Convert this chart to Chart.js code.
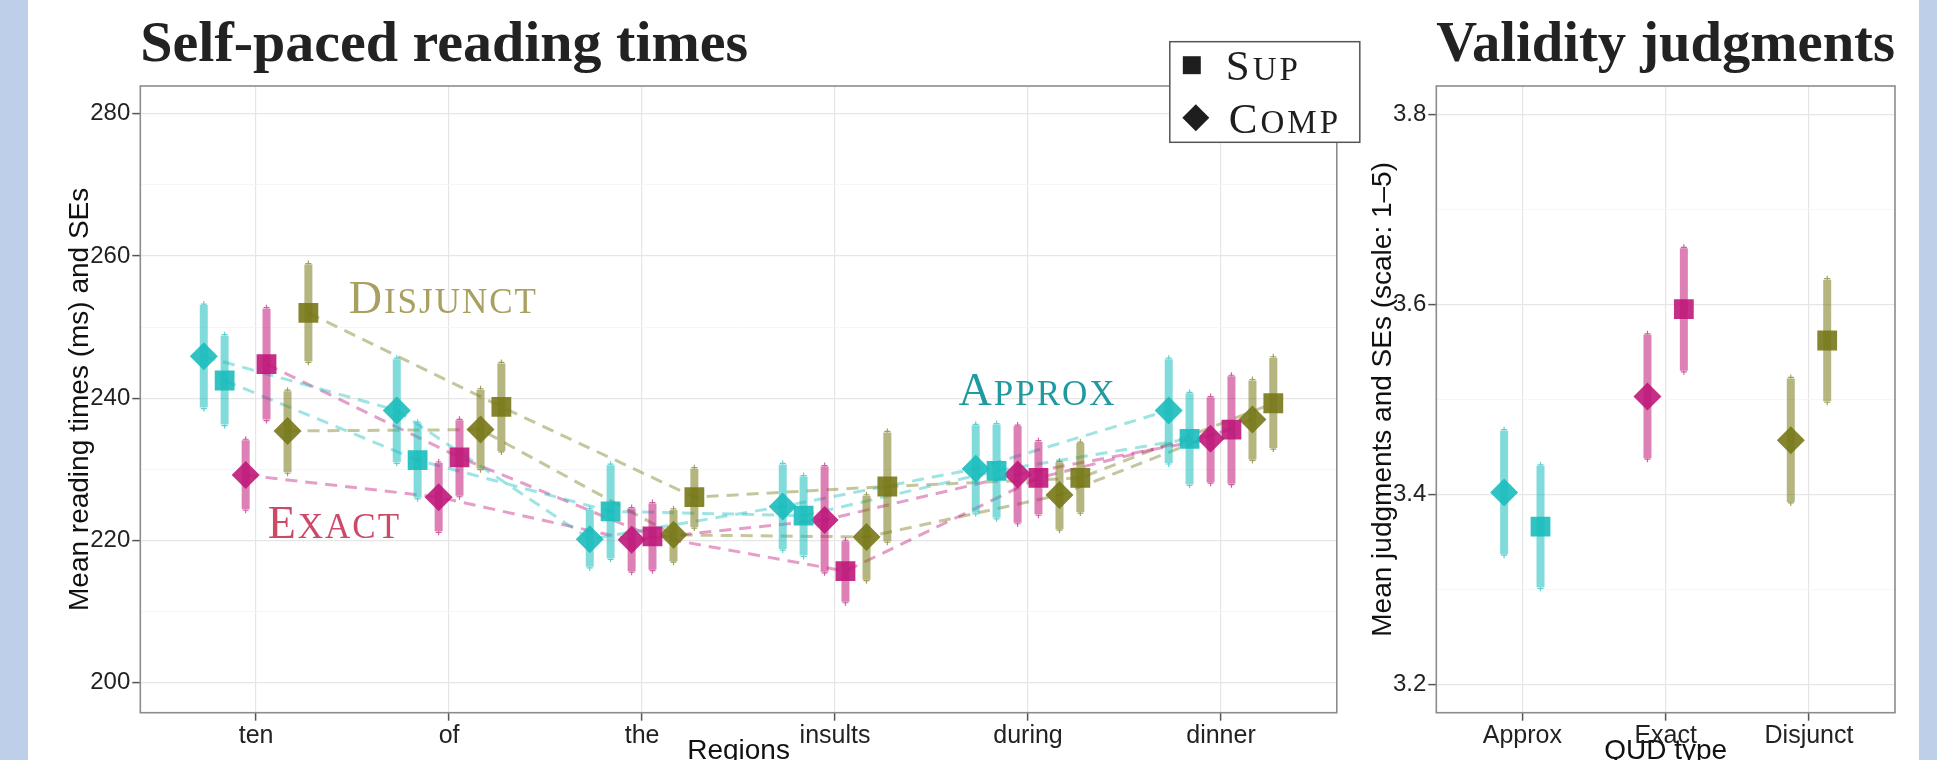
<!DOCTYPE html>
<html>
<head>
<meta charset="utf-8">
<script src="https://cdn.jsdelivr.net/npm/chart.js@4.4.1/dist/chart.umd.min.js"></script>
<style>
  html, body { margin: 0; padding: 0; }
  body { width: 1937px; height: 760px; overflow: hidden; position: relative; background: #fff; }
  .band { position: absolute; top: 0; height: 760px; background: #bdcfe9; }
  #readingChart { position: absolute; left: 28px; top: 0; }
  #judgChart { position: absolute; left: 1360px; top: 0; }
</style>
</head>
<body>
<div class="band" style="left:0;width:28px"></div>
<div class="band" style="left:1919px;width:18px"></div>
<canvas id="readingChart" width="1345" height="800"></canvas>
<canvas id="judgChart" width="559" height="800"></canvas>
<script>
/*** Categories */
var regions = ['ten', 'of', 'the', 'insults', 'during', 'dinner'];
var qudTypes = ['Approx', 'Exact', 'Disjunct'];

/*** Reading times (ms): means and SE ranges per region */
var approxComp   = [245.9, 238.3, 220.2, 224.8, 230.1, 238.3];
var approxCompLo = [238.7, 231.0, 216.3, 218.8, 223.9, 230.9];
var approxCompHi = [253.1, 245.5, 224.3, 230.7, 236.2, 245.5];
var approxSup    = [242.5, 231.3, 224.1, 223.5, 229.8, 234.3];
var approxSupLo  = [236.3, 226.0, 217.5, 217.9, 223.2, 227.9];
var approxSupHi  = [248.8, 236.5, 230.6, 229.0, 236.3, 240.7];
var exactComp    = [229.2, 226.1, 220.1, 222.9, 229.3, 234.3];
var exactCompLo  = [224.4, 221.3, 215.7, 215.6, 222.5, 228.2];
var exactCompHi  = [234.1, 230.9, 224.5, 230.4, 236.1, 240.1];
var exactSup     = [244.8, 231.7, 220.6, 215.7, 228.8, 235.6];
var exactSupLo   = [237.0, 226.3, 215.9, 211.4, 223.7, 228.0];
var exactSupHi   = [252.6, 236.9, 225.2, 219.9, 233.9, 243.1];
var disjComp     = [235.4, 235.6, 220.8, 220.5, 226.4, 237.0];
var disjCompLo   = [229.6, 230.1, 217.1, 214.5, 221.6, 231.4];
var disjCompHi   = [241.0, 241.2, 224.3, 226.3, 231.0, 242.5];
var disjSup      = [252.0, 238.8, 226.1, 227.6, 228.8, 239.3];
var disjSupLo    = [245.2, 232.6, 221.9, 219.9, 224.0, 233.0];
var disjSupHi    = [258.8, 244.9, 230.1, 235.2, 233.7, 245.7];

/*** Validity judgments (scale 1-5): means and SE ranges per QUD type */
var judgComp   = [3.402, 3.503, 3.457];
var judgCompLo = [3.337, 3.438, 3.392];
var judgCompHi = [3.467, 3.568, 3.522];
var judgSup    = [3.366, 3.595, 3.562];
var judgSupLo  = [3.302, 3.530, 3.498];
var judgSupHi  = [3.430, 3.659, 3.626];

/*** Estilos */
var serif = "'Liberation Serif', serif";
var sans = "'Liberation Sans', Arial, sans-serif";
var teal = [27, 189, 189];
var magenta = [192, 24, 122];
var olive = [120, 120, 24];
var majorGrid = '#e6e6e6';
var minorGrid = '#f4f4f4';
var tickMark = '#555';

function rgba(c, a) { return 'rgba(' + c.join(',') + ',' + a + ')'; }

// dodge offsets (x units) for the six condition groups inside a region
var readingSeries = [
    { mean: approxComp, lo: approxCompLo, hi: approxCompHi, color: teal,    shape: 'rectRot', dodge: -0.271 },
    { mean: approxSup,  lo: approxSupLo,  hi: approxSupHi,  color: teal,    shape: 'rect',    dodge: -0.163 },
    { mean: exactComp,  lo: exactCompLo,  hi: exactCompHi,  color: magenta, shape: 'rectRot', dodge: -0.054 },
    { mean: exactSup,   lo: exactSupLo,   hi: exactSupHi,   color: magenta, shape: 'rect',    dodge: 0.054 },
    { mean: disjComp,   lo: disjCompLo,   hi: disjCompHi,   color: olive,   shape: 'rectRot', dodge: 0.163 },
    { mean: disjSup,    lo: disjSupLo,    hi: disjSupHi,    color: olive,   shape: 'rect',    dodge: 0.271 }
];

// direct labels for the QUD groups (data coordinates of the text start / baseline)
var groupLabels = [
    { text: 'Disjunct', x: 0.48, y: 252.0, color: '#a8a060' },
    { text: 'Exact',    x: 0.06, y: 220.3, color: '#cc4a68' },
    { text: 'Approx',   x: 3.64, y: 239.0, color: '#1f9aa0' }
];
var legendItems = [
    { label: 'Sup', shape: 'rect' },
    { label: 'Comp', shape: 'rectRot' }
];

/** small caps: first letter full size, the rest upper case and smaller */
function drawSmallCaps(ctx, text, x, y, size, spacing) {
    var small = Math.round(size * 0.76);
    for (var i = 0; i < text.length; i++) {
        var ch = i === 0 ? text[i] : text[i].toUpperCase();
        ctx.font = (i === 0 ? size : small) + 'px ' + serif;
        ctx.fillText(ch, x, y);
        x += ctx.measureText(ch).width + spacing;
    }
}

/** thin error bar whiskers sticking out of each thick SE bar */
var whiskerPlugin = {
    id: 'whiskers',
    afterDatasetDraw: function(chart, args) {
        var meta = args.meta;
        if (meta.type !== 'bar') return;
        var ds = chart.data.datasets[args.index];
        var ctx = chart.ctx;
        ctx.save();
        ctx.lineWidth = 1.2;
        meta.data.forEach(function(el, i) {
            var top = Math.min(el.y, el.base), bot = Math.max(el.y, el.base);
            ctx.strokeStyle = Array.isArray(ds.whiskerColor) ? ds.whiskerColor[i] : ds.whiskerColor;
            ctx.beginPath();
            ctx.moveTo(el.x, top - 4); ctx.lineTo(el.x, top);
            ctx.moveTo(el.x, bot); ctx.lineTo(el.x, bot + 4);
            ctx.moveTo(el.x - 3, top - 1); ctx.lineTo(el.x + 3, top - 1);
            ctx.moveTo(el.x - 3, bot + 1); ctx.lineTo(el.x + 3, bot + 1);
            ctx.stroke();
        });
        ctx.restore();
    }
};

var panelBorderPlugin = {
    id: 'panelBorder',
    afterDraw: function(chart) {
        var a = chart.chartArea, ctx = chart.ctx;
        ctx.save();
        ctx.strokeStyle = '#8c8c8c';
        ctx.lineWidth = 1.6;
        ctx.strokeRect(a.left, a.top, a.right - a.left, a.bottom - a.top);
        ctx.restore();
    }
};

var groupLabelPlugin = {
    id: 'groupLabels',
    afterDraw: function(chart) {
        var ctx = chart.ctx;
        ctx.save();
        ctx.textBaseline = 'alphabetic';
        ctx.textAlign = 'left';
        groupLabels.forEach(function(g) {
            ctx.fillStyle = g.color;
            drawSmallCaps(ctx, g.text, chart.scales.x.getPixelForValue(g.x), chart.scales.y.getPixelForValue(g.y), 46, 2);
        });
        ctx.restore();
    }
};

var shapeLegendPlugin = {
    id: 'shapeLegend',
    afterDraw: function(chart) {
        var ctx = chart.ctx;
        var left = chart.chartArea.right - 167, top = 41.7, w = 190, h = 100.6;
        ctx.save();
        ctx.fillStyle = '#fff';
        ctx.fillRect(left, top, w, h);
        ctx.strokeStyle = '#555';
        ctx.lineWidth = 1.5;
        ctx.strokeRect(left, top, w, h);
        ctx.fillStyle = '#1e1e1e';
        ctx.textAlign = 'left';
        ctx.textBaseline = 'alphabetic';
        legendItems.forEach(function(item, i) {
            var cy = top + 23.5 + i * 52.5;
            Chart.helpers.drawPoint(ctx, { pointStyle: item.shape, radius: item.shape === 'rect' ? 12.7 : 13.5, rotation: 0, borderWidth: 0 },
                left + (item.shape === 'rect' ? 22 : 26), cy);
            drawSmallCaps(ctx, item.label, left + 56 + i * 3, cy + 15, 43, 3);
        });
        ctx.restore();
    }
};

/*** Gráfico de tiempos de lectura */
var readingDatasets = [];
readingSeries.forEach(function(s) {
    var xs = regions.map(function(r, i) { return i + s.dodge; });
    readingDatasets.push({
        type: 'line', order: 2,
        data: xs.map(function(x, i) { return { x: x, y: s.mean[i] }; }),
        borderColor: rgba(s.color, 0.42), borderWidth: 3, borderDash: [12, 8],
        pointRadius: 0, tension: 0, fill: false
    });
    readingDatasets.push({
        type: 'bar', order: 1, grouped: false, maxBarThickness: 8,
        data: xs.map(function(x, i) { return { x: x, y: [s.lo[i], s.hi[i]] }; }),
        backgroundColor: rgba(s.color, 0.55), borderWidth: 0,
        whiskerColor: rgba(s.color, 0.7)
    });
    readingDatasets.push({
        type: 'line', order: 0, showLine: false,
        data: xs.map(function(x, i) { return { x: x, y: s.mean[i] }; }),
        pointStyle: s.shape, pointRadius: 14, pointBorderWidth: 0,
        pointBackgroundColor: rgba(s.color, 0.9)
    });
});

function isMajor(v, step) { return Math.round(v / step) % 2 === 0; }

function xAxis(labels, min, max, title) {
    return {
        type: 'linear', min: min, max: max, offset: false,
        border: { display: false },
        grid: { offset: false, color: majorGrid, lineWidth: 1.2, tickColor: tickMark, tickLength: 8, tickWidth: 1.5 },
        ticks: { stepSize: 1, includeBounds: false, padding: 0, maxRotation: 0, autoSkip: false,
                 color: '#222', font: { family: sans, size: 25 },
                 callback: function(v) { return labels[v]; } },
        title: { display: true, text: title, color: '#111', font: { family: sans, size: 28 }, padding: 0 },
        afterFit: function(s) { s.height = 55.5; }
    };
}

function yAxis(min, max, step, title, titlePad, width, fmt) {
    return {
        type: 'linear', min: min, max: max, beginAtZero: false,
        border: { display: false },
        grid: {
            color: function(c) { return c.tick && isMajor(c.tick.value, step) ? majorGrid : minorGrid; },
            lineWidth: function(c) { return c.tick && isMajor(c.tick.value, step) ? 1.2 : 0.8; },
            tickColor: function(c) { return c.tick && isMajor(c.tick.value, step) ? tickMark : 'rgba(0,0,0,0)'; },
            tickLength: 8, tickWidth: 1.5
        },
        ticks: { stepSize: step, includeBounds: false, padding: 2, color: '#222', font: { family: sans, size: 24 },
                 callback: function(v) { return isMajor(v, step) ? fmt(v) : ''; } },
        title: { display: true, text: title, color: '#111', font: { family: sans, size: 28 }, padding: { top: titlePad, bottom: 0 } },
        afterFit: function(s) { s.width = width; }
    };
}

function chartTitle(text, align) {
    return { display: true, text: text, align: align, fullSize: false, color: '#222',
             font: { family: serif, size: 58, weight: 'bold' }, padding: { top: 11.6, bottom: 4.8 } };
}

var readingChart = new Chart(document.getElementById('readingChart').getContext('2d'), {
    type: 'line',
    data: { datasets: readingDatasets },
    options: {
        responsive: false,
        animation: false,
        layout: { padding: { left: 0, right: 36.2, top: 0, bottom: 31.8 } },
        plugins: {
            legend: { display: false },
            tooltip: { enabled: false },
            title: chartTitle('Self-paced reading times', 'start')
        },
        scales: {
            x: xAxis(regions, -0.6, 5.6, 'Regions'),
            y: yAxis(195.8, 283.9, 10, 'Mean reading times (ms) and SEs', 35.2, 112.3, function(v) { return String(v); })
        }
    },
    plugins: [whiskerPlugin, panelBorderPlugin, groupLabelPlugin, shapeLegendPlugin]
});

/*** Gráfico de juicios de validez */
var qudColors = [teal, magenta, olive];
var judgSeries = [
    { mean: judgComp, lo: judgCompLo, hi: judgCompHi, shape: 'rectRot', dodge: -0.127 },
    { mean: judgSup,  lo: judgSupLo,  hi: judgSupHi,  shape: 'rect',    dodge: 0.127 }
];
var judgDatasets = [];
judgSeries.forEach(function(s) {
    var xs = qudTypes.map(function(q, i) { return i + s.dodge; });
    judgDatasets.push({
        type: 'bar', order: 1, grouped: false, maxBarThickness: 8,
        data: xs.map(function(x, i) { return { x: x, y: [s.lo[i], s.hi[i]] }; }),
        backgroundColor: qudColors.map(function(c) { return rgba(c, 0.55); }), borderWidth: 0,
        whiskerColor: qudColors.map(function(c) { return rgba(c, 0.7); })
    });
    judgDatasets.push({
        type: 'line', order: 0, showLine: false,
        data: xs.map(function(x, i) { return { x: x, y: s.mean[i] }; }),
        pointStyle: s.shape, pointRadius: 14, pointBorderWidth: 0,
        pointBackgroundColor: qudColors.map(function(c) { return rgba(c, 0.9); })
    });
});

var judgChart = new Chart(document.getElementById('judgChart').getContext('2d'), {
    type: 'line',
    data: { datasets: judgDatasets },
    options: {
        responsive: false,
        animation: false,
        layout: { padding: { left: 0, right: 24, top: 0, bottom: 31.8 } },
        plugins: {
            legend: { display: false },
            tooltip: { enabled: false },
            title: chartTitle('Validity judgments', 'end')
        },
        scales: {
            x: xAxis(qudTypes, -0.6, 2.6, 'QUD type'),
            y: yAxis(3.17, 3.83, 0.1, 'Mean judgments and SEs (scale: 1\u20135)', 6.7, 76.3, function(v) { return v.toFixed(1); })
        }
    },
    plugins: [whiskerPlugin, panelBorderPlugin]
});
</script>
</body>
</html>
